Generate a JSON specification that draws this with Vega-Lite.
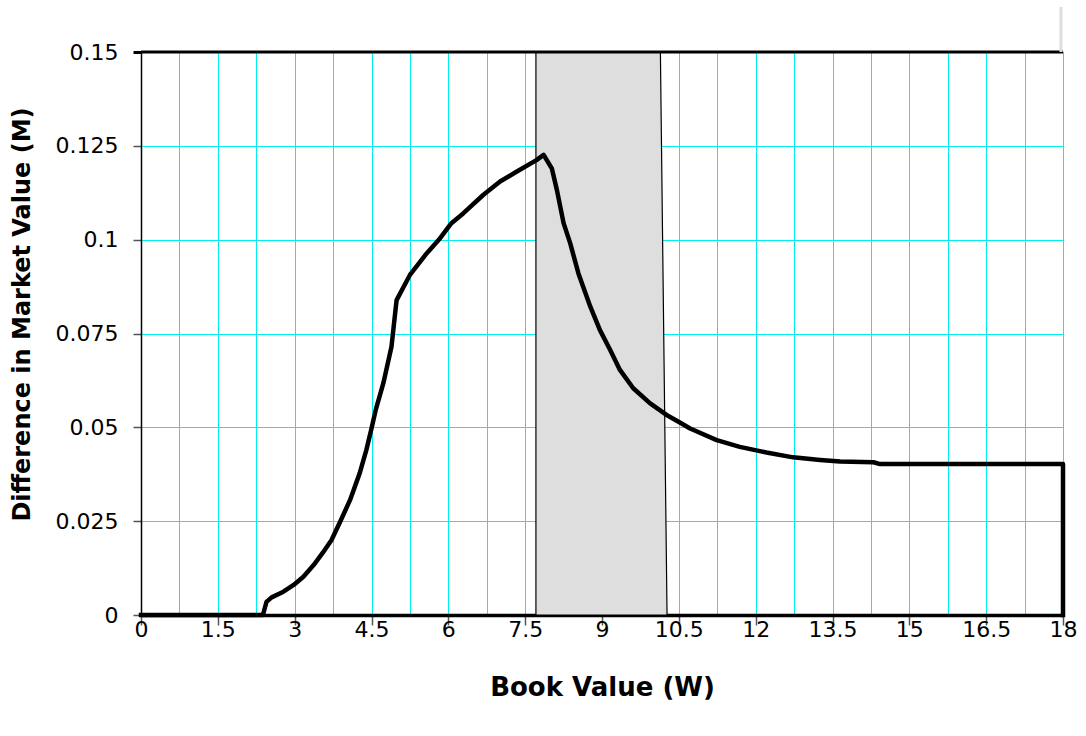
{
  "$schema": "https://vega.github.io/schema/vega-lite/v6.json",
  "width": 922,
  "height": 563,
  "autosize": "none",
  "padding": {"left": 141, "top": 52, "right": 23, "bottom": 121},
  "background": "white",
  "config": {
    "view": {"stroke": "#000000", "strokeWidth": 1},
    "font": "DejaVu Sans",
    "axis": {"labelFont": "DejaVu Sans", "titleFont": "DejaVu Sans", "labelColor": "#000", "titleColor": "#000"}
  },
  "datasets": {
    "band": [
      {"w": 7.71, "m": 0, "m2": 0.15},
      {"w": 10.14, "m": 0, "m2": 0.15},
      {"w": 10.27, "m": 0, "m2": 0}
    ],
    "curve": [
      {"i": 0, "w": 0, "m": 0},
      {"i": 1, "w": 2.38, "m": 0},
      {"i": 2, "w": 2.42, "m": 0.002},
      {"i": 3, "w": 2.45, "m": 0.0035},
      {"i": 4, "w": 2.55, "m": 0.0047},
      {"i": 5, "w": 2.78, "m": 0.0062},
      {"i": 6, "w": 2.98, "m": 0.008},
      {"i": 7, "w": 3.17, "m": 0.0102},
      {"i": 8, "w": 3.37, "m": 0.0133},
      {"i": 9, "w": 3.55, "m": 0.0166},
      {"i": 10, "w": 3.72, "m": 0.02},
      {"i": 11, "w": 3.89, "m": 0.0249},
      {"i": 12, "w": 4.08, "m": 0.0306},
      {"i": 13, "w": 4.27, "m": 0.0378},
      {"i": 14, "w": 4.4, "m": 0.044},
      {"i": 15, "w": 4.5, "m": 0.0497},
      {"i": 16, "w": 4.58, "m": 0.0545},
      {"i": 17, "w": 4.73, "m": 0.0617},
      {"i": 18, "w": 4.89, "m": 0.0715},
      {"i": 19, "w": 4.99, "m": 0.0839},
      {"i": 20, "w": 5.25, "m": 0.0906},
      {"i": 21, "w": 5.58, "m": 0.0964},
      {"i": 22, "w": 5.84, "m": 0.1004},
      {"i": 23, "w": 6.06, "m": 0.1044},
      {"i": 24, "w": 6.29, "m": 0.107},
      {"i": 25, "w": 6.68, "m": 0.1119},
      {"i": 26, "w": 7.01, "m": 0.1155},
      {"i": 27, "w": 7.33, "m": 0.1181},
      {"i": 28, "w": 7.72, "m": 0.1212},
      {"i": 29, "w": 7.86, "m": 0.1226},
      {"i": 30, "w": 8.02, "m": 0.119},
      {"i": 31, "w": 8.12, "m": 0.1132},
      {"i": 32, "w": 8.25, "m": 0.1044},
      {"i": 33, "w": 8.38, "m": 0.099},
      {"i": 34, "w": 8.54, "m": 0.091},
      {"i": 35, "w": 8.77, "m": 0.0822},
      {"i": 36, "w": 8.96, "m": 0.0759},
      {"i": 37, "w": 9.16, "m": 0.0706},
      {"i": 38, "w": 9.35, "m": 0.0653},
      {"i": 39, "w": 9.61, "m": 0.0604},
      {"i": 40, "w": 9.94, "m": 0.0564},
      {"i": 41, "w": 10.26, "m": 0.0533},
      {"i": 42, "w": 10.52, "m": 0.0513},
      {"i": 43, "w": 10.72, "m": 0.0497},
      {"i": 44, "w": 11.24, "m": 0.0466},
      {"i": 45, "w": 11.69, "m": 0.0448},
      {"i": 46, "w": 12.21, "m": 0.0433},
      {"i": 47, "w": 12.73, "m": 0.042},
      {"i": 48, "w": 13.26, "m": 0.0413},
      {"i": 49, "w": 13.65, "m": 0.0409},
      {"i": 50, "w": 14.3, "m": 0.0407},
      {"i": 51, "w": 14.43, "m": 0.0402},
      {"i": 52, "w": 18, "m": 0.0402},
      {"i": 53, "w": 18, "m": 0}
    ],
    "cap": [{"w": 0, "w2": 18, "m": 0.15}],
    "edge": [{"w": 17.96, "m": 0.15, "m2": 0.162}]
  },
  "encoding": {
    "x": {
      "field": "w", "type": "quantitative",
      "scale": {"domain": [0, 18], "nice": false, "zero": false},
      "axis": {
        "title": "Book Value (W)",
        "values": [0, 0.75, 1.5, 2.25, 3, 3.75, 4.5, 5.25, 6, 6.75, 7.5, 8.25, 9, 9.75, 10.5, 11.25, 12, 12.75, 13.5, 14.25, 15, 15.75, 16.5, 17.25, 18],
        "format": ".6~g",
        "labelExpr": "datum.value % 1.5 === 0 ? datum.label : ''",
        "labelOverlap": false,
        "labelFlush": false,
        "labelFontSize": 22,
        "labelPadding": 4,
        "labelBaseline": "middle",
        "tickSize": 10,
        "tickColor": "#555555",
        "tickWidth": 1.5,
        "tickOpacity": {"condition": {"test": "datum.value % 1.5 === 0", "value": 1}, "value": 0},
        "domainColor": "#000000",
        "domainWidth": 3.5,
        "grid": true,
        "gridColor": "#00f0f0",
        "gridOpacity": 1,
        "gridWidth": 1,
        "titleFontSize": 26,
        "titleFontWeight": "bold",
        "titleBaseline": "middle",
        "titleY": 72
      }
    },
    "y": {
      "field": "m", "type": "quantitative",
      "scale": {"domain": [0, 0.15], "nice": false, "zero": false},
      "axis": {
        "title": "Difference in Market Value (M)",
        "values": [0, 0.025, 0.05, 0.075, 0.1, 0.125, 0.15],
        "format": ".6~g",
        "labelOverlap": false,
        "labelFlush": false,
        "labelFontSize": 22,
        "labelPadding": 15,
        "tickSize": 8,
        "tickColor": {"condition": {"test": "datum.value === 0.15", "value": "#000000"}, "value": "#555555"},
        "tickWidth": {"condition": {"test": "datum.value === 0.15", "value": 3}, "value": 1.5},
        "domainColor": "#000000",
        "domainWidth": 1.5,
        "grid": true,
        "gridColor": "#00f0f0",
        "gridOpacity": 1,
        "gridWidth": 1,
        "titleFontSize": 24,
        "titleFontWeight": "bold",
        "titleAngle": -90,
        "titleAlign": "center",
        "titleBaseline": "middle",
        "titleX": -119,
        "titleY": 262
      }
    }
  },
  "layer": [
    {
      "data": {"name": "band"},
      "mark": {"type": "area", "fill": "#dedede", "stroke": "#000000", "strokeWidth": 1.2, "interpolate": "linear"},
      "encoding": {
        "y2": {"field": "m2"}
      }
    },
    {
      "data": {"name": "curve"},
      "mark": {"type": "line", "color": "#000000", "strokeWidth": 4.5, "strokeJoin": "round", "strokeCap": "square"},
      "encoding": {
        "order": {"field": "i", "type": "quantitative"}
      }
    },
    {
      "data": {"name": "cap"},
      "mark": {"type": "rule", "color": "#000000", "strokeWidth": 3},
      "encoding": {
        "x2": {"field": "w2"}
      }
    },
    {
      "data": {"name": "edge"},
      "mark": {"type": "rule", "color": "#dddddd", "strokeWidth": 3},
      "encoding": {
        "y2": {"field": "m2"}
      }
    }
  ]
}
